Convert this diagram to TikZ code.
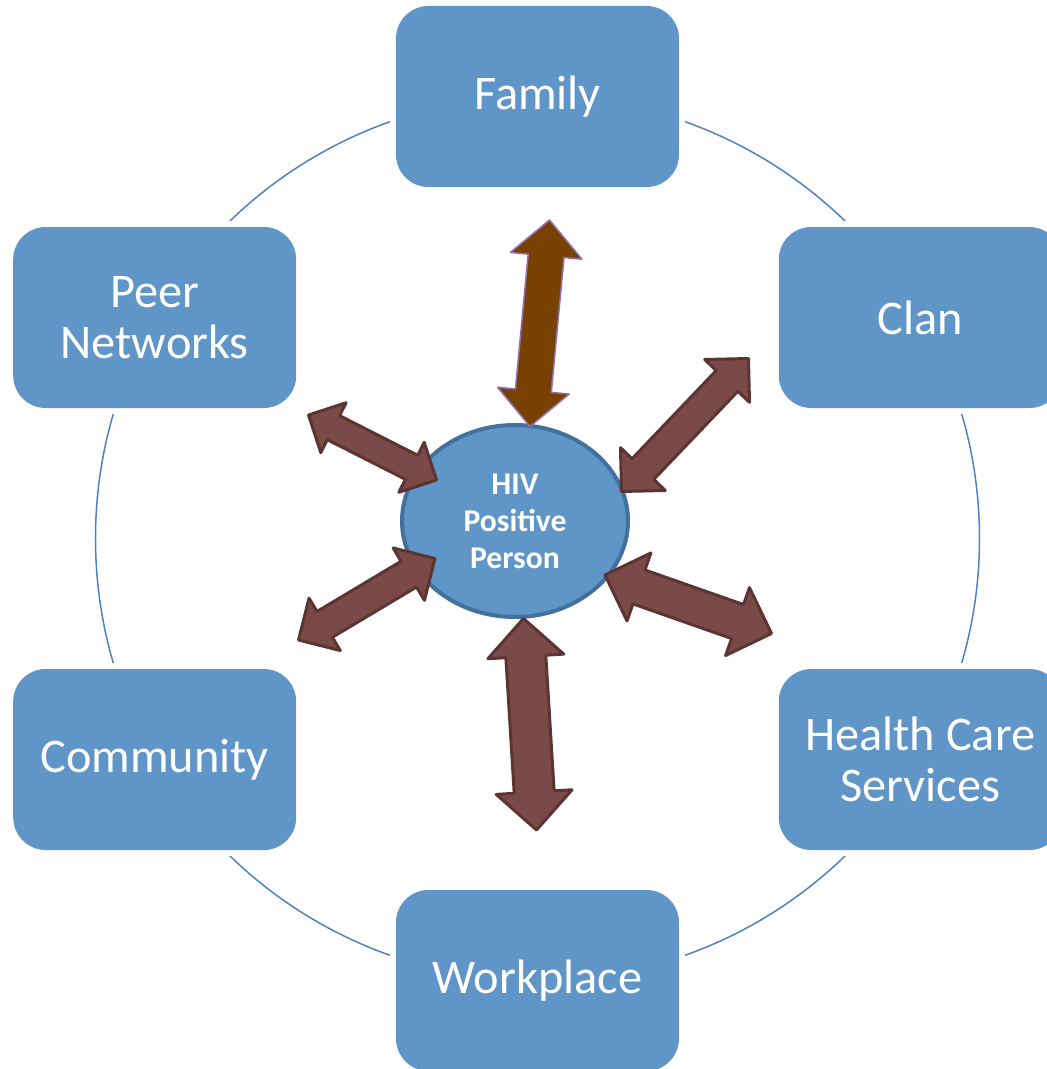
\documentclass[tikz,border=0pt]{standalone}
\usepackage{fontspec}
\setmainfont{Carlito}
\usetikzlibrary{calc,shapes.geometric}

\definecolor{boxblue}{RGB}{96,149,199}
\definecolor{hubline}{RGB}{65,113,156}
\definecolor{ringblue}{RGB}{79,129,189}
\definecolor{linkfill}{RGB}{122,74,72}
\definecolor{linkline}{RGB}{92,52,50}
\definecolor{topfill}{RGB}{121,65,0}
\definecolor{topline}{RGB}{146,112,184}

\tikzset{>=stealth,
  area/.style={rounded corners=0.65cm, fill=boxblue, text=white,
    minimum width=5.66cm, minimum height=3.62cm, align=center,
    font=\fontsize{27.5}{29}\selectfont,
    preaction={draw=white, line width=0.24cm}},
  hub/.style={ellipse, draw=hubline, line width=0.08cm, fill=boxblue,
    text=white, minimum width=4.52cm, minimum height=3.84cm, inner sep=0pt,
    align=center, font=\bfseries\fontsize{18}{21}\selectfont},
  link/.style={fill=linkfill, draw=linkline, line width=0.06cm, line join=round},
  mainlink/.style={fill=topfill, draw=topline, line width=0.03cm, line join=round}
}

% two-headed block arrow: [style]{tip}{tip}{half shaft}{half head}
\newcommand{\linkarrow}[5][link]{%
  \draw[#1] (#2)
    -- ($(#2)!#5!(#3)!#5!90:(#3)$) -- ($(#2)!#5!(#3)!#4!90:(#3)$)
    -- ($(#3)!#5!(#2)!#4!-90:(#2)$) -- ($(#3)!#5!(#2)!#5!-90:(#2)$)
    -- (#3)
    -- ($(#3)!#5!(#2)!#5!90:(#2)$) -- ($(#3)!#5!(#2)!#4!90:(#2)$)
    -- ($(#2)!#5!(#3)!#4!-90:(#3)$) -- ($(#2)!#5!(#3)!#5!-90:(#3)$)
    -- cycle;}

\begin{document}
\begin{tikzpicture}
\useasboundingbox (-10.75,-10.61) rectangle (10.19,10.77);
\clip (-10.75,-10.61) rectangle (10.19,10.77);

% ring behind the boxes
\coordinate (O) at (0,0);
\draw[ringblue, line width=0.03cm] (O) circle[radius=8.84cm];

\node[area] (family)    at (90:8.84)  {Family};
\node[area] (clan)      at (30:8.84)  {Clan};
\node[area] (health)    at (-30:8.84) {Health Care\\Services};
\node[area] (workplace) at (-90:8.84) {Workplace};
\node[area] (community) at (210:8.84) {Community};
\node[area] (peers)     at (150:8.84) {Peer\\Networks};

\node[hub] (hiv) at (-0.45,0.35) {HIV\\Positive\\Person};

% arrow ends
\coordinate (fam-in)  at (-0.15,2.24);
\coordinate (fam-out) at (0.24,6.37);
\coordinate (clan-in)  at (1.68,0.94);
\coordinate (clan-out) at (4.22,3.60);
\coordinate (hc-in)  at (1.35,-0.73);
\coordinate (hc-out) at (4.68,-1.90);
\coordinate (work-in)  at (-0.28,-1.60);
\coordinate (work-out) at (-0.02,-5.83);
\coordinate (com-in)  at (-2.05,-0.40);
\coordinate (com-out) at (-4.78,-2.03);
\coordinate (peer-in)  at (-2.02,1.17);
\coordinate (peer-out) at (-4.58,2.47);

\linkarrow[mainlink]{fam-in}{fam-out}{0.36cm}{0.72cm}
\linkarrow{clan-in}{clan-out}{0.30cm}{0.62cm}
\linkarrow{hc-in}{hc-out}{0.36cm}{0.72cm}
\linkarrow{work-in}{work-out}{0.40cm}{0.76cm}
\linkarrow{com-in}{com-out}{0.30cm}{0.61cm}
\linkarrow{peer-in}{peer-out}{0.27cm}{0.56cm}
\end{tikzpicture}
\end{document}
